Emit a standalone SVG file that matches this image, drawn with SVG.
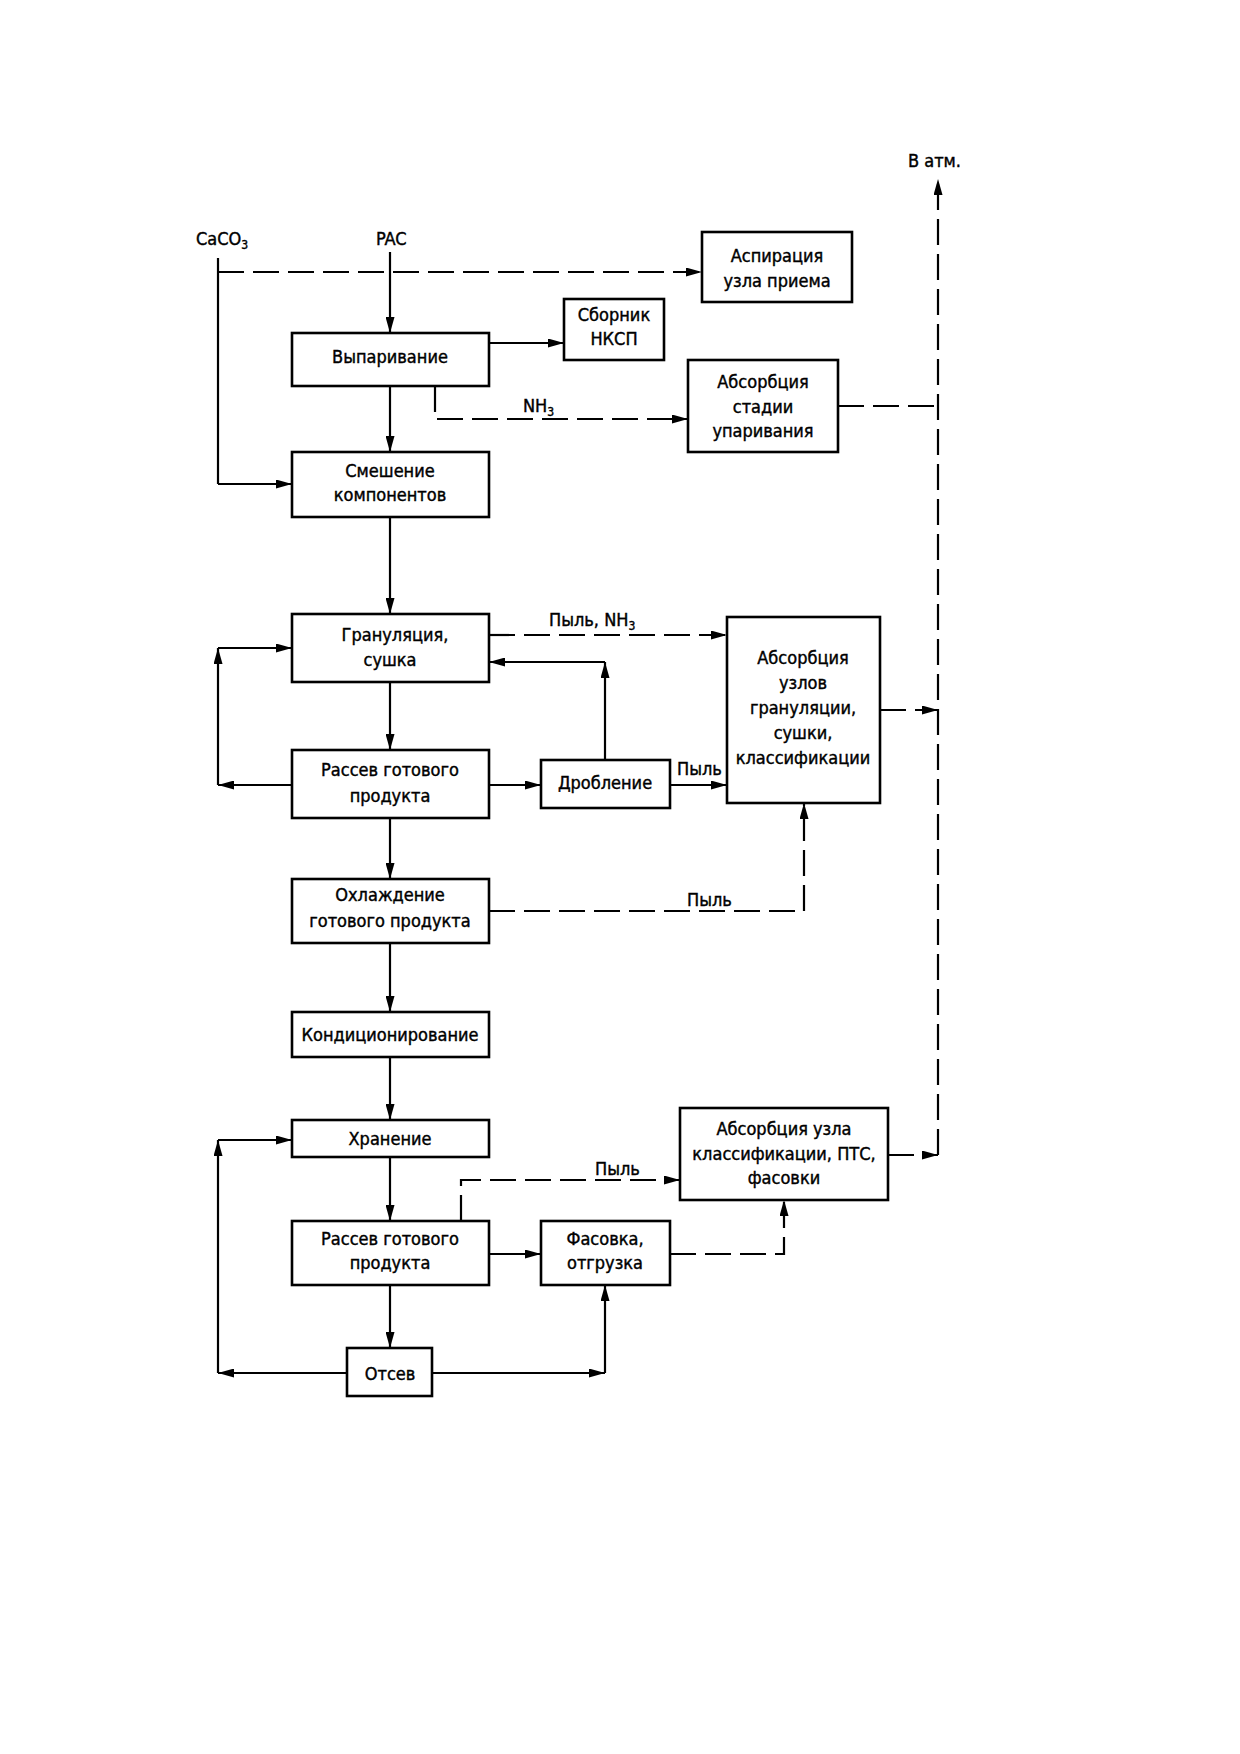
<svg xmlns="http://www.w3.org/2000/svg" width="1240" height="1754" viewBox="0 0 1240 1754">
<style>
.box{fill:#fff;stroke:#000;stroke-width:2.6}
.ln{fill:none;stroke:#000;stroke-width:2.2}
.ds{fill:none;stroke:#000;stroke-width:2.2;stroke-dasharray:26 9}
.t{font-family:"DejaVu Sans Condensed","DejaVu Sans",sans-serif;font-size:18px;fill:#000;stroke:#000;stroke-width:0.4;text-anchor:middle;dominant-baseline:central}
.l{font-family:"DejaVu Sans Condensed","DejaVu Sans",sans-serif;font-size:18px;fill:#000;stroke:#000;stroke-width:0.4}
.sub{font-size:12px}
</style>
<defs>
<marker id="a" viewBox="0 0 16 9" refX="16" refY="4.5" markerWidth="16" markerHeight="9" markerUnits="userSpaceOnUse" orient="auto">
<path d="M0,0 L16,4.5 L0,9 z" fill="#000"/>
</marker>
</defs>
<rect width="1240" height="1754" fill="#fff"/>

<g id="connectors">
<line class="ln" x1="218" y1="258" x2="218" y2="484"/>
<line class="ln" x1="218" y1="484" x2="292" y2="484" marker-end="url(#a)"/>
<line class="ds" x1="218" y1="272" x2="702" y2="272" marker-end="url(#a)"/>
<line class="ln" x1="390" y1="252" x2="390" y2="333" marker-end="url(#a)"/>
<line class="ln" x1="489" y1="343" x2="564" y2="343" marker-end="url(#a)"/>
<line class="ln" x1="390" y1="386" x2="390" y2="452" marker-end="url(#a)"/>
<polyline class="ds" points="435,386 435,419 688,419" marker-end="url(#a)"/>
<line class="ds" x1="838" y1="406" x2="938" y2="406" stroke-dasharray="30 8"/>
<line class="ds" x1="938" y1="1155" x2="938" y2="179" marker-end="url(#a)"/>
<line class="ln" x1="390" y1="517" x2="390" y2="614" marker-end="url(#a)"/>
<line class="ds" x1="489" y1="635" x2="727" y2="635" marker-end="url(#a)"/>
<line class="ds" x1="880" y1="710" x2="938" y2="710" stroke-dasharray="20 9" marker-end="url(#a)"/>
<line class="ln" x1="390" y1="682" x2="390" y2="750" marker-end="url(#a)"/>
<line class="ln" x1="292" y1="785" x2="218" y2="785" marker-end="url(#a)"/>
<line class="ln" x1="218" y1="785" x2="218" y2="648" marker-end="url(#a)"/>
<line class="ln" x1="218" y1="648" x2="292" y2="648" marker-end="url(#a)"/>
<line class="ln" x1="489" y1="785" x2="541" y2="785" marker-end="url(#a)"/>
<line class="ln" x1="605" y1="760" x2="605" y2="662" marker-end="url(#a)"/>
<line class="ln" x1="605" y1="662" x2="489" y2="662" marker-end="url(#a)"/>
<line class="ln" x1="670" y1="785" x2="727" y2="785" marker-end="url(#a)"/>
<line class="ln" x1="390" y1="818" x2="390" y2="879" marker-end="url(#a)"/>
<polyline class="ds" points="489,911 804,911 804,803" marker-end="url(#a)"/>
<line class="ln" x1="390" y1="943" x2="390" y2="1012" marker-end="url(#a)"/>
<line class="ln" x1="390" y1="1057" x2="390" y2="1120" marker-end="url(#a)"/>
<line class="ln" x1="390" y1="1157" x2="390" y2="1221" marker-end="url(#a)"/>
<line class="ln" x1="489" y1="1254" x2="541" y2="1254" marker-end="url(#a)"/>
<line class="ln" x1="390" y1="1285" x2="390" y2="1348" marker-end="url(#a)"/>
<line class="ln" x1="347" y1="1373" x2="218" y2="1373" marker-end="url(#a)"/>
<line class="ln" x1="218" y1="1373" x2="218" y2="1140" marker-end="url(#a)"/>
<line class="ln" x1="218" y1="1140" x2="292" y2="1140" marker-end="url(#a)"/>
<line class="ln" x1="432" y1="1373" x2="605" y2="1373" marker-end="url(#a)"/>
<line class="ln" x1="605" y1="1373" x2="605" y2="1285" marker-end="url(#a)"/>
<polyline class="ds" points="461,1221 461,1180 680,1180" marker-end="url(#a)"/>
<polyline class="ds" points="670,1254 784,1254 784,1200" marker-end="url(#a)"/>
<line class="ds" x1="888" y1="1155" x2="938" y2="1155" stroke-dasharray="20 9" marker-end="url(#a)"/>
</g>

<g id="labels">
<text class="l" x="196" y="245">CaCO<tspan class="sub" dy="4">3</tspan></text>
<text class="l" x="376" y="245">PAC</text>
<text class="l" x="908" y="167">В атм.</text>
<text class="l" x="523" y="412">NH<tspan class="sub" dy="4">3</tspan></text>
<text class="l" x="549" y="626">Пыль, NH<tspan class="sub" dy="4">3</tspan></text>
<text class="l" x="677" y="775">Пыль</text>
<text class="l" x="687" y="906">Пыль</text>
<text class="l" x="595" y="1175">Пыль</text>
</g>

<g id="n_aspiration"><rect class="box" x="702" y="232" width="150" height="70"/>
<text class="t" x="777" y="255">Аспирация</text><text class="t" x="777" y="280">узла приема</text></g>
<g id="n_sbornik"><rect class="box" x="564" y="299" width="100" height="61"/>
<text class="t" x="614" y="314">Сборник</text><text class="t" x="614" y="338">НКСП</text></g>
<g id="n_vyparivanie"><rect class="box" x="292" y="333" width="197" height="53"/>
<text class="t" x="390" y="356">Выпаривание</text></g>
<g id="n_abs_upar"><rect class="box" x="688" y="360" width="150" height="92"/>
<text class="t" x="763" y="381">Абсорбция</text><text class="t" x="763" y="406">стадии</text><text class="t" x="763" y="430">упаривания</text></g>
<g id="n_smeshenie"><rect class="box" x="292" y="452" width="197" height="65"/>
<text class="t" x="390" y="470">Смешение</text><text class="t" x="390" y="494">компонентов</text></g>
<g id="n_granul"><rect class="box" x="292" y="614" width="197" height="68"/>
<text class="t" x="395" y="634">Грануляция,</text><text class="t" x="390" y="659">сушка</text></g>
<g id="n_abs_gran"><rect class="box" x="727" y="617" width="153" height="186"/>
<text class="t" x="803" y="657">Абсорбция</text><text class="t" x="803" y="682">узлов</text><text class="t" x="803" y="707">грануляции,</text><text class="t" x="803" y="732">сушки,</text><text class="t" x="803" y="757">классификации</text></g>
<g id="n_rassev1"><rect class="box" x="292" y="750" width="197" height="68"/>
<text class="t" x="390" y="769">Рассев готового</text><text class="t" x="390" y="795">продукта</text></g>
<g id="n_droblenie"><rect class="box" x="541" y="760" width="129" height="48"/>
<text class="t" x="605" y="782">Дробление</text></g>
<g id="n_ohlazhdenie"><rect class="box" x="292" y="879" width="197" height="64"/>
<text class="t" x="390" y="894">Охлаждение</text><text class="t" x="390" y="920">готового продукта</text></g>
<g id="n_kondic"><rect class="box" x="292" y="1012" width="197" height="45"/>
<text class="t" x="390" y="1034">Кондиционирование</text></g>
<g id="n_hranenie"><rect class="box" x="292" y="1120" width="197" height="37"/>
<text class="t" x="390" y="1138">Хранение</text></g>
<g id="n_abs_klass"><rect class="box" x="680" y="1108" width="208" height="92"/>
<text class="t" x="784" y="1128">Абсорбция узла</text><text class="t" x="784" y="1153">классификации, ПТС,</text><text class="t" x="784" y="1177">фасовки</text></g>
<g id="n_rassev2"><rect class="box" x="292" y="1221" width="197" height="64"/>
<text class="t" x="390" y="1238">Рассев готового</text><text class="t" x="390" y="1262">продукта</text></g>
<g id="n_fasovka"><rect class="box" x="541" y="1221" width="129" height="64"/>
<text class="t" x="605" y="1238">Фасовка,</text><text class="t" x="605" y="1262">отгрузка</text></g>
<g id="n_otsev"><rect class="box" x="347" y="1348" width="85" height="48"/>
<text class="t" x="390" y="1373">Отсев</text></g>
</svg>
